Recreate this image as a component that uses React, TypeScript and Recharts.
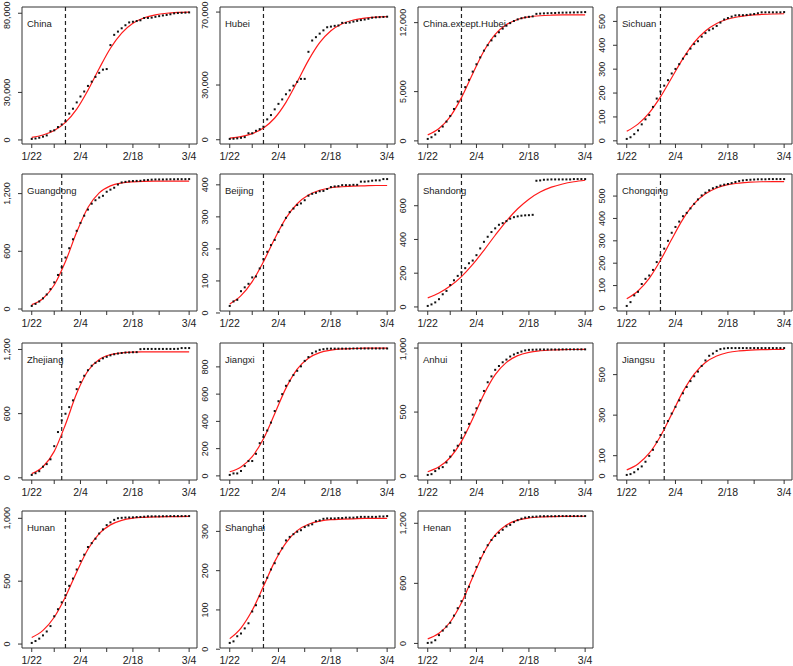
import React from "react";
import {
  ComposedChart,
  Line,
  Scatter,
  XAxis,
  YAxis,
  ReferenceLine,
  ReferenceArea,
} from "recharts";

// day index 0 = 1/22 ... 42 = 3/4
const obsDays = Array.from({ length: 43 }, (_, i) => i);
const fitDays = [0, 3, 6, 9, 12, 15, 18, 21, 24, 27, 30, 33, 36, 39, 42];
const xTicks = [0, 6, 13, 20, 27, 34, 42];
const xTickLabels = ["1/22", "", "2/4", "", "2/18", "", "3/4"];

const regions = [
  "China", "Hubei", "China.except.Hubei", "Sichuan",
  "Guangdong", "Beijing", "Shandong", "Chongqing",
  "Zhejiang", "Jiangxi", "Anhui", "Jiangsu",
  "Hunan", "Shanghai", "Henan",
];

// day of the dashed vertical line, per region
const cutDays = [9, 9, 9, 9, 8, 9, 9, 9, 8, 9, 9, 10, 9, 9, 10];

const yTicks = [
  [0, 30000, 80000],
  [0, 30000, 70000],
  [0, 5000, 12000],
  [0, 100, 200, 300, 400, 500],
  [0, 600, 1200],
  [0, 100, 200, 300, 400],
  [0, 200, 400, 600],
  [0, 100, 200, 300, 400, 500],
  [0, 600, 1200],
  [0, 200, 400, 600, 800],
  [0, 500, 1000],
  [0, 100, 300, 500],
  [0, 500, 1000],
  [0, 100, 200, 300],
  [0, 600, 1200],
];

const chinaObs = [643, 920, 1406, 2075, 2877, 5509, 6087, 8141, 9802, 11891, 16630, 19716, 23707, 27440, 30587, 34110, 36814, 39829, 42354, 44386, 44759, 59895, 66358, 68413, 70513, 72434, 74211, 74619, 75077, 75550, 77001, 77022, 77241, 77754, 78166, 78600, 78928, 79356, 79932, 80136, 80261, 80386, 80537];
const chinaFit = [1590, 3115, 5980, 11100, 19470, 31400, 45130, 57920, 67500, 73640, 77120, 79000, 79990, 80490, 80740];

const hubeiObs = [444, 549, 761, 1058, 1423, 3554, 3554, 4903, 5806, 7153, 11177, 13522, 16678, 19665, 22112, 24953, 27100, 29631, 31728, 33366, 33366, 48206, 54406, 56249, 58182, 59989, 61682, 62031, 62442, 62662, 64084, 64084, 64287, 64786, 65187, 65596, 65914, 66337, 66907, 67103, 67217, 67332, 67466];
const hubeiFit = [834, 1677, 3325, 6439, 11920, 20514, 31776, 43525, 53215, 59747, 63585, 65660, 66730, 67270, 67538];

const exHubeiObs = [199, 371, 645, 1017, 1454, 1955, 2533, 3238, 3996, 4738, 5453, 6194, 7029, 7775, 8475, 9157, 9714, 10198, 10626, 11020, 11393, 11689, 11952, 12164, 12331, 12445, 12529, 12588, 12635, 12888, 12917, 12938, 12954, 12968, 12979, 13004, 13014, 13019, 13025, 13033, 13044, 13054, 13071];
const exHubeiFit = [612, 1265, 2471, 4390, 6816, 9127, 10806, 11800, 12322, 12576, 12697, 12752, 12778, 12790, 12795];

const sichuanObs = [8, 15, 28, 44, 69, 90, 108, 142, 177, 207, 231, 254, 282, 301, 321, 344, 363, 386, 405, 417, 436, 451, 463, 470, 481, 495, 508, 514, 520, 525, 526, 526, 527, 529, 531, 534, 538, 538, 538, 538, 538, 538, 539];
const sichuanFit = [40, 70, 117, 184, 264, 344, 412, 460, 491, 510, 520, 526, 529, 531, 532];

const guangdongObs = [32, 53, 78, 111, 151, 207, 277, 354, 436, 535, 632, 725, 813, 895, 970, 1034, 1095, 1131, 1159, 1177, 1219, 1241, 1261, 1294, 1316, 1322, 1328, 1331, 1332, 1333, 1339, 1342, 1345, 1347, 1347, 1347, 1348, 1349, 1349, 1350, 1350, 1350, 1351];
const guangdongFit = [45, 110, 249, 493, 800, 1056, 1208, 1280, 1310, 1322, 1327, 1329, 1330, 1330, 1330];

const beijingObs = [22, 36, 41, 68, 80, 91, 111, 114, 139, 168, 191, 212, 228, 253, 274, 297, 315, 326, 337, 342, 352, 366, 372, 375, 380, 381, 387, 393, 395, 396, 399, 399, 399, 400, 400, 410, 410, 411, 413, 414, 414, 418, 418];
const beijingFit = [28, 54, 98, 160, 232, 296, 341, 368, 383, 391, 394, 396, 397, 398, 398];

const shandongObs = [6, 15, 27, 46, 75, 95, 130, 158, 184, 206, 230, 259, 275, 307, 347, 386, 416, 444, 466, 487, 497, 509, 523, 532, 537, 541, 543, 544, 546, 748, 750, 754, 755, 756, 756, 756, 756, 756, 756, 758, 758, 758, 758];
const shandongFit = [54, 83, 124, 180, 252, 336, 425, 509, 582, 639, 681, 710, 729, 742, 751];

const chongqingObs = [9, 26, 56, 72, 107, 130, 145, 170, 205, 235, 265, 300, 336, 362, 386, 410, 425, 445, 465, 485, 503, 515, 526, 535, 541, 547, 551, 554, 558, 563, 567, 570, 572, 573, 574, 575, 575, 575, 576, 576, 576, 576, 576];
const chongqingFit = [41, 76, 132, 213, 307, 397, 466, 510, 536, 551, 558, 562, 564, 565, 565];

const zhejiangObs = [27, 43, 62, 104, 128, 173, 296, 428, 538, 599, 661, 724, 829, 895, 954, 1006, 1048, 1075, 1092, 1117, 1131, 1145, 1155, 1162, 1167, 1171, 1172, 1174, 1175, 1203, 1205, 1205, 1205, 1205, 1205, 1205, 1205, 1205, 1205, 1206, 1213, 1213, 1213];
const zhejiangFit = [39, 103, 247, 499, 790, 1001, 1107, 1152, 1168, 1175, 1177, 1178, 1178, 1178, 1178];

const jiangxiObs = [7, 18, 18, 36, 72, 109, 109, 162, 240, 286, 333, 391, 476, 548, 600, 661, 698, 740, 771, 804, 844, 872, 900, 913, 925, 930, 933, 934, 934, 934, 934, 934, 934, 935, 935, 935, 935, 935, 935, 935, 935, 935, 935];
const jiangxiFit = [30, 66, 141, 272, 456, 644, 784, 864, 905, 923, 932, 935, 937, 938, 938];

const anhuiObs = [9, 15, 39, 60, 70, 106, 152, 200, 237, 297, 340, 408, 480, 530, 591, 665, 733, 779, 830, 860, 889, 910, 934, 950, 962, 973, 982, 986, 987, 988, 989, 989, 989, 989, 989, 989, 990, 990, 990, 990, 990, 990, 990];
const anhuiFit = [34, 72, 145, 271, 448, 639, 792, 888, 941, 967, 979, 985, 988, 989, 990];

const jiangsuObs = [5, 9, 18, 33, 47, 70, 99, 129, 168, 202, 236, 271, 308, 341, 373, 408, 439, 468, 492, 515, 543, 570, 593, 604, 617, 626, 629, 631, 631, 631, 631, 631, 631, 631, 631, 631, 631, 631, 631, 631, 631, 631, 631];
const jiangsuFit = [30, 59, 112, 196, 305, 416, 503, 560, 592, 609, 617, 621, 623, 624, 625];

const hunanObs = [9, 24, 43, 69, 100, 143, 221, 277, 332, 389, 463, 521, 593, 661, 711, 772, 803, 838, 879, 912, 946, 968, 988, 1001, 1004, 1006, 1007, 1008, 1010, 1011, 1013, 1016, 1016, 1016, 1016, 1017, 1017, 1018, 1018, 1018, 1018, 1018, 1018];
const hunanFit = [52, 109, 213, 376, 574, 754, 878, 948, 984, 1001, 1008, 1012, 1014, 1014, 1015];

const shanghaiObs = [16, 20, 33, 40, 53, 66, 96, 112, 135, 169, 182, 203, 219, 243, 257, 277, 286, 293, 299, 303, 311, 315, 318, 326, 328, 332, 333, 333, 333, 334, 334, 335, 335, 335, 336, 337, 337, 337, 337, 337, 338, 338, 339];
const shanghaiFit = [27, 54, 99, 160, 223, 271, 302, 318, 326, 330, 331, 332, 333, 333, 333];

const henanObs = [5, 9, 32, 83, 128, 168, 206, 278, 352, 422, 493, 566, 675, 764, 851, 914, 981, 1033, 1073, 1105, 1135, 1169, 1184, 1212, 1231, 1246, 1257, 1262, 1265, 1267, 1270, 1271, 1271, 1271, 1271, 1272, 1272, 1272, 1272, 1272, 1272, 1272, 1272];
const henanFit = [46, 102, 214, 406, 662, 909, 1084, 1183, 1231, 1253, 1263, 1267, 1269, 1269, 1270];

const obsSeries = [chinaObs, hubeiObs, exHubeiObs, sichuanObs, guangdongObs, beijingObs, shandongObs, chongqingObs, zhejiangObs, jiangxiObs, anhuiObs, jiangsuObs, hunanObs, shanghaiObs, henanObs];
const fitSeries = [chinaFit, hubeiFit, exHubeiFit, sichuanFit, guangdongFit, beijingFit, shandongFit, chongqingFit, zhejiangFit, jiangxiFit, anhuiFit, jiangsuFit, hunanFit, shanghaiFit, henanFit];

const FONT = "'Liberation Sans', Arial, sans-serif";
const X_DOMAIN: [number, number] = [-2.6, 44.1];
const colLeft = [0, 198, 396, 595];
const rowTop = [0, 167, 336, 504];
const W = 198;
const H = 168;
const M_TOP = 7;
const Y_W = 22;
const Y_FONT = 9;

const fmt = (v: number) => v.toLocaleString("en-US");

// rotated y labels; keep the label inside the chart box near the top edge
const YTick = (props: any) => {
  const { x, y, payload } = props;
  const label = fmt(payload.value);
  const half = (label.length * 0.53 * Y_FONT) / 2;
  const cy = Math.max(y, half + 1);
  return (
    <text
      transform={`translate(${x - 6},${cy}) rotate(-90)`}
      textAnchor="middle"
      fontSize={Y_FONT}
      fontFamily={FONT}
      fill="#222"
    >
      {label}
    </text>
  );
};

const DotShape = (props: any) => {
  const { cx, cy } = props;
  return <rect x={cx - 1} y={cy - 1} width={2} height={2} fill="#111" />;
};

function Panel({ idx }: { idx: number }) {
  const obsVals = obsSeries[idx];
  const fitVals = fitSeries[idx];
  const obs = obsDays.map((d, i) => ({ d, v: obsVals[i] }));
  const fit = fitDays.map((d, i) => ({ d, v: fitVals[i] }));
  const ticks = yTicks[idx];
  // range like R's default 4% padding, kept wide enough for the top tick
  const mn = Math.min(...obsVals, ...fitVals);
  const mx = Math.max(...obsVals, ...fitVals, ticks[ticks.length - 1]);
  const pad = (mx - mn) * 0.04;
  const lo = mn - pad;
  const hi = mx + pad;
  const left = colLeft[idx % 4];
  const top = rowTop[Math.floor(idx / 4)];
  return (
    <div style={{ position: "absolute", left, top, width: W, height: H }}>
      <ComposedChart
        width={W}
        height={H}
        margin={{ top: M_TOP, right: 1, bottom: 0, left: 0 }}
      >
        <XAxis
          type="number"
          dataKey="d"
          domain={X_DOMAIN}
          ticks={xTicks}
          interval={0}
          allowDataOverflow
          axisLine={false}
          tickSize={4}
          tickMargin={5}
          height={24}
          stroke="#333"
          tick={{ fontSize: 10.5, fill: "#222", fontFamily: FONT }}
          tickFormatter={(v: number) => xTickLabels[xTicks.indexOf(v)] ?? ""}
        />
        <YAxis
          type="number"
          dataKey="v"
          domain={[lo, hi]}
          ticks={ticks}
          interval={0}
          allowDataOverflow
          axisLine={false}
          tickSize={4}
          width={Y_W}
          stroke="#333"
          tick={<YTick />}
        />
        <ReferenceArea
          x1={X_DOMAIN[0]}
          x2={X_DOMAIN[1]}
          y1={lo}
          y2={hi}
          fill="none"
          stroke="#333"
          strokeWidth={1}
          ifOverflow="visible"
        />
        <ReferenceLine
          x={cutDays[idx]}
          stroke="#222"
          strokeWidth={1.2}
          strokeDasharray="4 3"
        />
        <Line
          data={fit}
          dataKey="v"
          type="monotone"
          stroke="#ff1a1a"
          strokeWidth={1.2}
          dot={false}
          activeDot={false}
          isAnimationActive={false}
        />
        <Scatter
          data={obs}
          dataKey="v"
          fill="#111"
          shape={<DotShape />}
          isAnimationActive={false}
        />
      </ComposedChart>
      <div
        style={{
          position: "absolute",
          left: Y_W + 5,
          top: M_TOP + 12,
          fontSize: 9.5,
          lineHeight: "10px",
          fontFamily: FONT,
          color: "#222",
          whiteSpace: "nowrap",
        }}
      >
        {regions[idx]}
      </div>
    </div>
  );
}

export default function App() {
  return (
    <div
      style={{
        position: "absolute",
        left: 0,
        top: 0,
        width: 793,
        height: 666,
        background: "#fff",
      }}
    >
      {regions.map((_, i) => (
        <Panel key={i} idx={i} />
      ))}
    </div>
  );
}
